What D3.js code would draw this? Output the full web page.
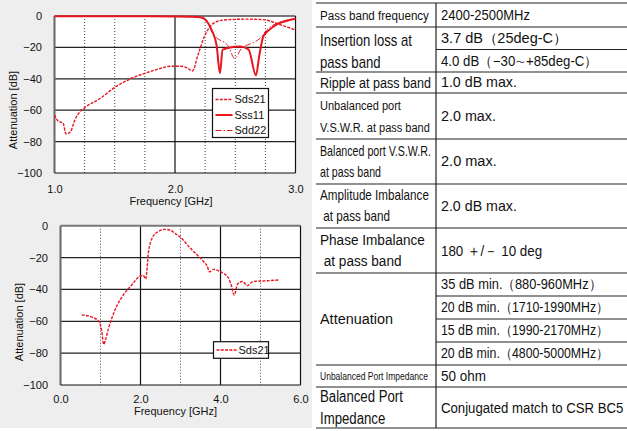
<!DOCTYPE html>
<html><head><meta charset="utf-8">
<script src="https://cdn.jsdelivr.net/npm/d3@7"></script>
<style>
body{margin:0;background:#fff;}
svg{display:block;font-family:"Liberation Sans",Arial,sans-serif;}
</style>
</head><body>
<svg id="c" width="627" height="431"></svg>
<script>
// ---------- DATA ----------
// Upper chart (1.0 - 3.0 GHz): [GHz, dB]
const sds21Top = [[1.0,-63],[1.02,-66],[1.045,-67.5],[1.07,-68],[1.095,-75],[1.13,-74],[1.17,-66],[1.21,-61],[1.25,-58.4],[1.38,-52.4],[1.5,-45.5],[1.63,-40],[1.75,-36.5],[1.875,-33.5],[1.96,-32],[2.05,-32],[2.1,-33],[2.145,-35],[2.19,-25],[2.25,-12],[2.3,-6],[2.37,-3],[2.45,-2.3],[2.6,-2],[2.73,-2.3],[2.8,-3.5],[2.87,-5.5],[2.94,-7.2],[3.0,-9]];
const sss11Top = [[1.0,-0.2],[1.5,-0.2],[2.0,-0.3],[2.15,-0.5],[2.22,-1],[2.27,-4],[2.31,-10],[2.345,-18.5],[2.373,-36.5],[2.395,-21.5],[2.45,-20.2],[2.54,-19.5],[2.61,-21.2],[2.672,-37.8],[2.7,-25],[2.733,-13],[2.78,-9],[2.845,-5.3],[2.93,-3],[3.0,-1.8]];
const sdd22Top = [[1.0,-0.3],[2.0,-0.3],[2.2,-0.8],[2.26,-2.5],[2.305,-10],[2.346,-13.8],[2.44,-19],[2.496,-27],[2.553,-20.5],[2.6,-18.5],[2.65,-17],[2.705,-14.2],[2.76,-9],[2.84,-4.7],[2.92,-2.8],[3.0,-1.5]];
// Lower chart (0 - 6 GHz)
const sds21Wide = [[0.53,-56],[0.8,-57.5],[0.97,-60.5],[1.03,-66],[1.08,-74.5],[1.12,-72],[1.2,-64.5],[1.36,-53],[1.57,-43.5],[1.78,-37.2],[1.99,-31.6],[2.07,-31.2],[2.13,-33.5],[2.2,-16.5],[2.29,-7.9],[2.44,-3.7],[2.61,-2.3],[2.74,-2.7],[2.86,-4.8],[2.98,-6.9],[3.25,-14.2],[3.58,-22.6],[3.66,-25],[3.73,-29],[3.82,-27.4],[4.0,-29],[4.19,-32.5],[4.27,-37.5],[4.34,-43.5],[4.43,-36.5],[4.55,-35],[4.67,-37.6],[4.82,-35],[5.15,-34.6],[5.47,-34]];

const yTicks = [0,-20,-40,-60,-80,-100];
const xTicksTop = [1.0,2.0,3.0];
const xDottedTop = [1.25,1.5,1.75,2.25,2.5,2.75];
const xTicksWide = [0,2,4,6];
const xDottedWide = [1,3,5];
const legendTop = ["Sds21","Sss11","Sdd22"];
const legendWide = ["Sds21"];

// Spec table
const specLabels = [["Pass band frequency"],["Insertion loss at","pass band"],["Ripple at pass band"],["Unbalanced port","V.S.W.R. at pass band"],["Balanced port V.S.W.R.","at pass band"],["Amplitude Imbalance"," at pass band"],["Phase Imbalance"," at pass band"],["Attenuation"],["Unbalanced Port Impedance"],["Balanced Port","Impedance"]];
const specValues = [["2400-2500MHz"],["3.7 dB（25deg-C）","4.0 dB（−30∼+85deg-C）"],["1.0 dB max."],["2.0 max."],["2.0 max."],["2.0 dB max."],["180 ＋/－ 10 deg"],["35 dB min.（880-960MHz）","20 dB min.（1710-1990MHz）","15 dB min.（1990-2170MHz）","20 dB min.（4800-5000MHz）"],["50 ohm"],["Conjugated match to CSR BC5"]];

// ---------- LAYOUT ----------
const RED = "#e8161e";
const svg = d3.select("#c");
svg.append("rect").attr("x",0).attr("y",0).attr("width",312).attr("height",428).attr("fill","#eeeeee");

const styles = {
  Sds21:{w:1.4,dash:"3,1.3"},
  Sss11:{w:2,dash:null},
  Sdd22:{w:1,dash:"6,2,1.5,2"}
};

function chart(o){
  const x = d3.scaleLinear().domain(o.xd).range([o.l,o.r]);
  const y = d3.scaleLinear().domain([-100,0]).range([o.b,o.t]);
  const g = svg.append("g");
  g.append("rect").attr("x",o.l).attr("y",o.t).attr("width",o.r-o.l).attr("height",o.b-o.t).attr("fill","#fff");
  g.selectAll(".hg").data([-20,-40,-60,-80]).join("line")
    .attr("x1",o.l).attr("x2",o.r).attr("y1",d=>y(d)).attr("y2",d=>y(d))
    .attr("stroke","#222").attr("stroke-width",1.2);
  g.selectAll(".dv").data(o.dotted).join("line")
    .attr("x1",d=>x(d)).attr("x2",d=>x(d)).attr("y1",o.t).attr("y2",o.b)
    .attr("stroke","#444").attr("stroke-width",1).attr("stroke-dasharray","1,2");
  g.selectAll(".sv").data(o.solid).join("line")
    .attr("x1",d=>x(d)).attr("x2",d=>x(d)).attr("y1",o.t).attr("y2",o.b)
    .attr("stroke","#111").attr("stroke-width",1.2);
  g.append("line").attr("x1",o.l).attr("x2",o.r).attr("y1",o.t).attr("y2",o.t).attr("stroke","#777").attr("stroke-width",2);
  g.append("line").attr("x1",o.l).attr("x2",o.l).attr("y1",o.t).attr("y2",o.b).attr("stroke","#666").attr("stroke-width",2);
  g.append("line").attr("x1",o.r).attr("x2",o.r).attr("y1",o.t).attr("y2",o.b).attr("stroke","#111").attr("stroke-width",1.2);
  g.append("line").attr("x1",o.l).attr("x2",o.r).attr("y1",o.b).attr("y2",o.b).attr("stroke","#111").attr("stroke-width",1.2);
  const ya = g.append("g").attr("transform",`translate(${o.l},0)`)
    .call(d3.axisLeft(y).tickValues(yTicks).tickSize(0).tickPadding(12.5).tickFormat(d3.format("d")));
  const xa = g.append("g").attr("transform",`translate(0,${o.b})`)
    .call(d3.axisBottom(x).tickValues(o.xt).tickSize(0).tickPadding(o.xpad).tickFormat(d3.format(".1f")));
  [ya,xa].forEach(a=>{a.select(".domain").remove();a.selectAll("text").attr("font-size",11).attr("fill","#111").attr("font-family","Liberation Sans, Arial, sans-serif");});
  g.append("text").attr("x",o.xtx).attr("y",o.xty).attr("text-anchor","middle").attr("dy","0.35em")
    .attr("font-size",11).attr("fill","#111").text("Frequency [GHz]");
  g.append("text").attr("transform",`translate(${o.ytx},${o.yty}) rotate(-90)`).attr("text-anchor","middle").attr("dy","0.35em")
    .attr("font-size",11).attr("fill","#111").text("Attenuation [dB]");
  const line = d3.line().x(d=>x(d[0])).y(d=>y(d[1])).curve(d3.curveMonotoneX);
  o.series.forEach(s=>{
    const st = styles[s.name];
    g.append("path").datum(s.data).attr("d",line).attr("fill","none")
      .attr("stroke",RED).attr("stroke-width",st.w).attr("stroke-dasharray",st.dash);
  });
  const L = o.legend;
  g.append("rect").attr("x",L.x).attr("y",L.y).attr("width",L.w).attr("height",L.h)
    .attr("fill","#fff").attr("stroke","#111").attr("stroke-width",1.2);
  o.legendNames.forEach((n,i)=>{
    const st = styles[n];
    const yy = L.y + L.first + i*L.step;
    g.append("line").attr("x1",L.x+3).attr("x2",L.x+3+L.sample).attr("y1",yy).attr("y2",yy)
      .attr("stroke",RED).attr("stroke-width",st.w).attr("stroke-dasharray",st.dash);
    g.append("text").attr("x",L.x+5+L.sample).attr("y",yy).attr("dy","0.35em")
      .attr("font-size",11).attr("fill","#111").text(n);
  });
}

chart({xd:[1,3], l:54.5, r:295.5, t:16, b:173, xt:xTicksTop, dotted:xDottedTop, solid:[2.0], xpad:12.5,
  xtx:171, xty:201.3, ytx:13.5, yty:110,
  series:[{name:"Sds21",data:sds21Top},{name:"Sdd22",data:sdd22Top},{name:"Sss11",data:sss11Top}],
  legend:{x:212.5,y:88.5,w:56,h:49,first:11,step:15.5,sample:17}, legendNames:legendTop});

chart({xd:[0,6], l:60.5, r:300.5, t:225.7, b:385, xt:xTicksWide, dotted:xDottedWide, solid:[2,4], xpad:10.5,
  xtx:175.5, xty:411, ytx:19, yty:322,
  series:[{name:"Sds21",data:sds21Wide}],
  legend:{x:213.5,y:341.7,w:55,h:16.6,first:8.3,step:15,sample:20}, legendNames:legendWide});

// ---------- TABLE ----------
const rowEdges = [3,27,72,93,139,184,228,273,365,387,428];
const tblL = 316, tblM = 436, tblR = 627;
const labelFont = [13.5,16,15.5,13.5,14,14,15.5,15.5,11.5,16];
const labelWidth = [109,92,111,110,111,109,105,73,108,83];
const labelLineY = [[15],[40,62],[82.5],[105,127],[151,172],[195,216],[240,261],[319],[376],[396,418]];
const valueWidth = [[89],[136,156],[76],[55],[56],[76],[102],[161,166,166,167],[45],[182]];
const valueFont = [14,14,14,14,14,14,14.5,14,14,15];

const T = svg.append("g").attr("fill","#111");
rowEdges.forEach(yy=>{
  T.append("line").attr("x1",tblL).attr("x2",tblR).attr("y1",yy).attr("y2",yy).attr("stroke","#222").attr("stroke-width",1.2);
});
T.append("line").attr("x1",tblM).attr("x2",tblM).attr("y1",rowEdges[0]).attr("y2",rowEdges[rowEdges.length-1]).attr("stroke","#222").attr("stroke-width",1.2);

specLabels.forEach((lines,i)=>{
  const grp = T.append("g");
  const texts = lines.map((s,j)=> grp.append("text").attr("x",0).attr("y",labelLineY[i][j]).attr("dy","0.35em")
      .attr("font-size",labelFont[i]).style("white-space","pre").text(s));
  const maxW = d3.max(texts, t=>t.node().getComputedTextLength());
  const sc = labelWidth[i]/maxW;
  grp.attr("transform",`translate(320,0) scale(${sc},1)`);
  const y0 = rowEdges[i], y1 = rowEdges[i+1];
  const vals = specValues[i];
  const h = (y1-y0)/vals.length;
  vals.forEach((v,j)=>{
    const yc = y0 + h*(j+0.5);
    if(j>0) T.append("line").attr("x1",tblM).attr("x2",tblR).attr("y1",y0+h*j).attr("y2",y0+h*j).attr("stroke","#222").attr("stroke-width",1.2);
    const vg = T.append("g");
    const t = vg.append("text").attr("x",0).attr("y",yc).attr("dy","0.35em").attr("font-size",valueFont[i]).text(v);
    const nat = t.node().getComputedTextLength();
    const s = Math.max(0.88, Math.min(1.04, valueWidth[i][j]/nat));
    vg.attr("transform",`translate(441,0) scale(${s},1)`);
  });
});
</script>
</body></html>
